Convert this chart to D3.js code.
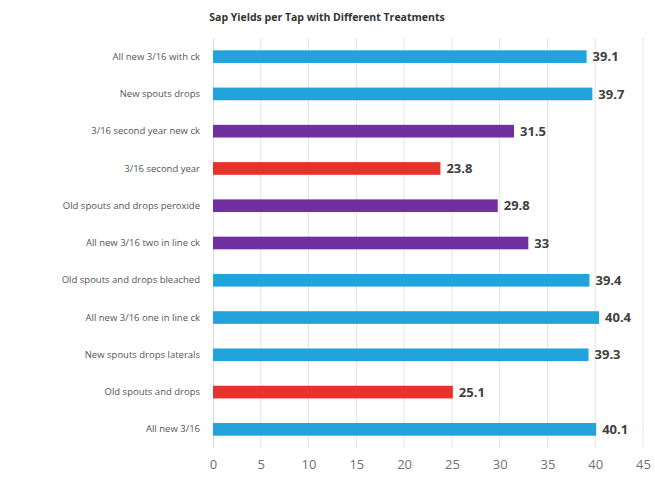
<!DOCTYPE html>
<html>
<head>
<meta charset="utf-8">
<script src="https://cdn.jsdelivr.net/npm/d3@7"></script>
<style>
  body { margin: 0; background: #fff; }
  text { font-family: "Open Sans", "DejaVu Sans", sans-serif; }
</style>
</head>
<body>
<div id="chart"></div>
<script>
// data, top to bottom
var categories = [
  "All new 3/16 with ck",
  "New spouts drops",
  "3/16 second year new ck",
  "3/16 second year",
  "Old spouts and drops peroxide",
  "All new 3/16 two in line ck",
  "Old spouts and drops bleached",
  "All new 3/16 one in line ck",
  "New spouts drops laterals",
  "Old spouts and drops",
  "All new 3/16"
];
var yields = [39.1, 39.7, 31.5, 23.8, 29.8, 33, 39.4, 40.4, 39.3, 25.1, 40.1];
var groups = ["new", "new", "second", "old", "second", "second", "new", "new", "new", "old", "new"];
var xTicks = [0, 5, 10, 15, 20, 25, 30, 35, 40, 45];

var colors = { "new": "#23a3dc", "second": "#7030a0", "old": "#e5322b" };

var svgWidth = 655;
var svgHeight = 481;
var margin = { top: 38, right: 12, bottom: 33, left: 213 };
var width = svgWidth - margin.left - margin.right;
var height = svgHeight - margin.top - margin.bottom;

var svg = d3.select("#chart")
  .append("svg")
  .attr("width", svgWidth)
  .attr("height", svgHeight);

var chartGroup = svg.append("g")
  .attr("transform", `translate(${margin.left}, ${margin.top})`);

// scales
var xScale = d3.scaleLinear()
  .domain([0, 45])
  .range([0, 430]);

var yScale = d3.scaleBand()
  .domain(categories)
  .range([0, 410])
  .paddingInner(0.66)
  .paddingOuter(0.33);

// gridlines
chartGroup.selectAll(".grid")
  .data(xTicks.slice(1))
  .enter()
  .append("line")
  .attr("x1", d => xScale(d))
  .attr("x2", d => xScale(d))
  .attr("y1", 0)
  .attr("y2", 410)
  .attr("stroke", "#e4e4e4")
  .attr("stroke-width", 1);

// x axis
var xAxis = d3.axisBottom(xScale)
  .tickValues(xTicks)
  .tickSize(0)
  .tickPadding(12);

var xAxisG = chartGroup.append("g")
  .attr("transform", `translate(0, 410)`)
  .call(xAxis);
xAxisG.select(".domain").remove();
xAxisG.selectAll("text")
  .attr("font-size", "13px")
  .attr("fill", "#707070")
  .style("font-family", "'Open Sans', sans-serif");

// y axis
var yAxis = d3.axisLeft(yScale).tickSize(0).tickPadding(13);
var yAxisG = chartGroup.append("g")
  .call(yAxis);
yAxisG.select(".domain")
  .attr("stroke", "#d9d9d9");
yAxisG.selectAll("text")
  .attr("font-size", "9.5px")
  .attr("fill", "#555")
  .style("font-family", "'Open Sans', sans-serif");

// bars
chartGroup.selectAll(".bar")
  .data(categories)
  .enter()
  .append("rect")
  .attr("class", "bar")
  .attr("x", 0)
  .attr("y", d => yScale(d))
  .attr("width", (d, i) => xScale(yields[i]))
  .attr("height", yScale.bandwidth())
  .attr("fill", (d, i) => colors[groups[i]]);

// value labels
chartGroup.selectAll(".val")
  .data(categories)
  .enter()
  .append("text")
  .attr("x", (d, i) => xScale(yields[i]) + 6)
  .attr("y", d => yScale(d) + yScale.bandwidth() / 2)
  .attr("dy", "0.36em")
  .attr("font-size", "13px")
  .attr("font-weight", "bold")
  .attr("fill", "#404040")
  .text((d, i) => yields[i]);

// title
svg.append("text")
  .attr("x", 327)
  .attr("y", 21)
  .attr("text-anchor", "middle")
  .attr("font-size", "10.5px")
  .attr("font-weight", "bold")
  .attr("fill", "#333")
  .text("Sap Yields per Tap with Different Treatments");
</script>
</body>
</html>
